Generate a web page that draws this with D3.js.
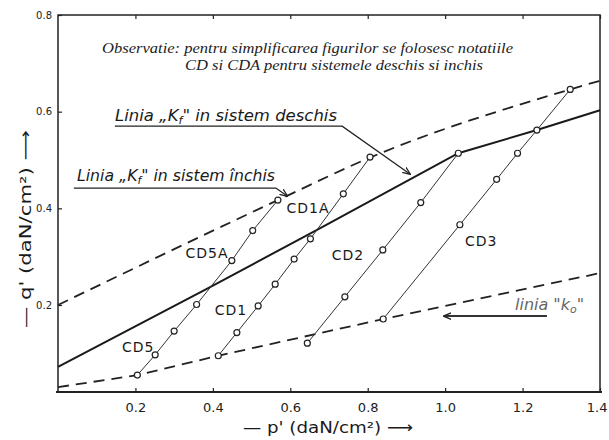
<!DOCTYPE html>
<html>
<head>
<meta charset="utf-8">
<script src="https://cdn.jsdelivr.net/npm/d3@7"></script>
<style>
  html, body { margin: 0; padding: 0; background: #fff; }
  svg { display: block; }
  .tick text { font-family: 'DejaVu Sans', sans-serif; fill: #222; }
  .hand { font-family: 'DejaVu Sans', sans-serif; fill: #1a1a1a; }
  .note { font-family: 'Liberation Serif', serif; font-style: italic; fill: #222; }
</style>
</head>
<body>
<svg id="chart"></svg>
<script>
'use strict';

// tick labels
const xTicks = [0.2, 0.4, 0.6, 0.8, 1.0, 1.2, 1.4];
const yTicks = [0.2, 0.4, 0.6, 0.8];

// [p', q']
const kfOpen = [[0, 0.200], [0.568, 0.417], [0.806, 0.505], [1.323, 0.646], [1.4, 0.664]];
const kfClosed = [[0, 0.072], [0.388, 0.235], [0.668, 0.355], [1.034, 0.514], [1.237, 0.562], [1.4, 0.603]];
const k0 = [[0, 0.030], [0.205, 0.055], [0.414, 0.095], [0.840, 0.171], [1.4, 0.266]];

const cd5 = [[0.205, 0.055], [0.251, 0.097], [0.300, 0.146], [0.358, 0.201], [0.449, 0.292], [0.503, 0.354], [0.568, 0.417]];
const cd1 = [[0.414, 0.095], [0.462, 0.143], [0.517, 0.198], [0.561, 0.243], [0.610, 0.295], [0.652, 0.337], [0.737, 0.430], [0.806, 0.506]];
const cd2 = [[0.644, 0.121], [0.741, 0.217], [0.839, 0.314], [0.937, 0.412], [1.034, 0.514]];
const cd3 = [[0.840, 0.171], [1.038, 0.366], [1.133, 0.460], [1.187, 0.514], [1.237, 0.562], [1.323, 0.646]];

const series = [cd5, cd1, cd2, cd3];
const seriesNames = ['CD5', 'CD5A', 'CD1', 'CD1A', 'CD2', 'CD3'];

const width = 609, height = 440;

const svg = d3.select('#chart')
    .attr('width', width)
    .attr('height', height);

const x = d3.scaleLinear()
    .domain([0, 1.4])
    .range([58, 600]);

const y = d3.scaleLinear()
    .domain([0.02, 0.8])
    .range([392, 15]);

svg.append('defs').append('marker')
    .attr('id', 'arrow')
    .attr('viewBox', '0 0 10 10')
    .attr('refX', 9)
    .attr('refY', 5)
    .attr('markerWidth', 8)
    .attr('markerHeight', 8)
    .attr('markerUnits', 'userSpaceOnUse')
    .attr('orient', 'auto')
  .append('path')
    .attr('d', 'M0,1 L10,5 L0,9')
    .attr('fill', 'none')
    .attr('stroke', '#222')
    .attr('stroke-width', 1.6);

// frame
svg.append('rect')
    .attr('x', x(0))
    .attr('y', y(0.8))
    .attr('width', x(1.4) - x(0))
    .attr('height', y(0.02) - y(0.8))
    .attr('fill', 'none')
    .attr('stroke', '#222')
    .attr('stroke-width', 1.5);

svg.append('line')
    .attr('x1', x(0) - 2).attr('x2', x(1.4) + 2)
    .attr('y1', y(0.02)).attr('y2', y(0.02))
    .attr('stroke', '#222')
    .attr('stroke-width', 2.2);

const xAxis = svg.append('g')
    .attr('transform', `translate(0,${y(0.02)})`)
    .call(d3.axisBottom(x).tickValues(xTicks).tickFormat(d3.format('.1f'))
      .tickSizeInner(-4).tickSizeOuter(0).tickPadding(11));

const yAxis = svg.append('g')
    .attr('transform', `translate(${x(0)},0)`)
    .call(d3.axisLeft(y).tickValues(yTicks).tickFormat(d3.format('.1f'))
      .tickSizeInner(-4).tickSizeOuter(0).tickPadding(6));

const topAxis = svg.append('g')
    .attr('transform', `translate(0,${y(0.8)})`)
    .call(d3.axisTop(x).tickValues(xTicks).tickFormat('')
      .tickSizeInner(-4).tickSizeOuter(0));

[xAxis, yAxis, topAxis].forEach(g => {
  g.select('.domain').remove();
  g.selectAll('.tick line').attr('stroke', '#222').attr('stroke-width', 1.2);
});
xAxis.selectAll('.tick text').attr('font-size', 13);
yAxis.selectAll('.tick text').attr('font-size', 10);

// last label sits on the page edge, keep it inside
xAxis.selectAll('.tick text')
    .filter(d => d === 1.4)
    .attr('text-anchor', 'end')
    .attr('x', 7);

const line = d3.line()
    .x(d => x(d[0]))
    .y(d => y(d[1]));

svg.append('path')
    .datum(kfOpen)
    .attr('d', line.curve(d3.curveMonotoneX))
    .attr('fill', 'none')
    .attr('stroke', '#222')
    .attr('stroke-width', 1.8)
    .attr('stroke-dasharray', '11,7');

line.curve(d3.curveLinear);

svg.append('path')
    .datum(kfClosed)
    .attr('d', line)
    .attr('fill', 'none')
    .attr('stroke', '#1a1a1a')
    .attr('stroke-width', 2);

svg.append('path')
    .datum(k0)
    .attr('d', line)
    .attr('fill', 'none')
    .attr('stroke', '#222')
    .attr('stroke-width', 1.8)
    .attr('stroke-dasharray', '11,7');

const runs = svg.append('g')
    .selectAll('g')
    .data(series)
  .enter().append('g');

runs.append('path')
    .attr('d', d => line(d))
    .attr('fill', 'none')
    .attr('stroke', '#333')
    .attr('stroke-width', 1);

runs.selectAll('circle')
    .data(d => d)
  .enter().append('circle')
    .attr('cx', d => x(d[0]))
    .attr('cy', d => y(d[1]))
    .attr('r', 3)
    .attr('fill', '#fff')
    .attr('stroke', '#222')
    .attr('stroke-width', 1.2);

// series names
const namePos = [[0.207, 0.113], [0.385, 0.308], [0.447, 0.190], [0.646, 0.401], [0.749, 0.303], [1.093, 0.332]];
svg.append('g')
    .selectAll('text')
    .data(seriesNames)
  .enter().append('text')
    .attr('class', 'hand')
    .attr('x', (d, i) => x(namePos[i][0]))
    .attr('y', (d, i) => y(namePos[i][1]))
    .attr('dy', '0.36em')
    .attr('text-anchor', 'middle')
    .attr('font-size', 14)
    .attr('letter-spacing', 1)
    .text(d => d);

// note on top
svg.append('text')
    .attr('class', 'note')
    .attr('x', 307.5).attr('y', 53)
    .attr('text-anchor', 'middle')
    .attr('font-size', 15)
    .attr('textLength', 411)
    .attr('lengthAdjust', 'spacingAndGlyphs')
    .text('Observatie: pentru simplificarea figurilor se folosesc notatiile');

svg.append('text')
    .attr('class', 'note')
    .attr('x', 334).attr('y', 70)
    .attr('text-anchor', 'middle')
    .attr('font-size', 15)
    .attr('textLength', 298)
    .attr('lengthAdjust', 'spacingAndGlyphs')
    .text('CD si CDA  pentru sistemele deschis si inchis');

function kfLabel(px, py, len, tail) {
  const t = svg.append('text')
      .attr('class', 'hand')
      .attr('x', px).attr('y', py)
      .attr('font-size', 16)
      .attr('font-style', 'italic')
      .attr('textLength', len)
      .attr('lengthAdjust', 'spacingAndGlyphs');
  t.append('tspan').text('Linia „K');
  t.append('tspan').attr('font-size', 11).attr('dy', 3).text('f');
  t.append('tspan').attr('dy', -3).text('" ' + tail);
}

kfLabel(115, 121, 222, 'in sistem deschis');
kfLabel(77, 181, 198, 'in sistem închis');

svg.append('path')
    .attr('d', `M${x(0.147)},${y(0.570)} H${x(0.734)} L${x(0.909)},${y(0.471)}`)
    .attr('fill', 'none')
    .attr('stroke', '#222')
    .attr('stroke-width', 1.3)
    .attr('marker-end', 'url(#arrow)');

svg.append('path')
    .attr('d', `M${x(0.041)},${y(0.442)} H${x(0.563)} L${x(0.592)},${y(0.4255)}`)
    .attr('fill', 'none')
    .attr('stroke', '#222')
    .attr('stroke-width', 1.3)
    .attr('marker-end', 'url(#arrow)');

// k0 label
const k0Label = svg.append('text')
    .attr('class', 'hand')
    .attr('x', 515).attr('y', 310)
    .attr('font-size', 16)
    .attr('font-style', 'italic')
    .style('fill', '#666');
k0Label.append('tspan').text('linia "k');
k0Label.append('tspan').attr('font-size', 11).attr('dy', 3).text('o');
k0Label.append('tspan').attr('dy', -3).text('"');

svg.append('path')
    .attr('d', `M${x(1.263)},${y(0.177)} H${x(0.997)}`)
    .attr('fill', 'none')
    .attr('stroke', '#333')
    .attr('stroke-width', 2)
    .attr('marker-end', 'url(#arrow)');

// axis titles
svg.append('text')
    .attr('class', 'hand')
    .attr('transform', 'translate(25,229) rotate(-90)')
    .attr('text-anchor', 'middle')
    .attr('dy', '0.35em')
    .attr('font-size', 16)
    .attr('textLength', 198)
    .attr('lengthAdjust', 'spacingAndGlyphs')
    .text("— q' (daN/cm²) ⟶");

svg.append('text')
    .attr('class', 'hand')
    .attr('x', 328).attr('y', 433)
    .attr('text-anchor', 'middle')
    .attr('font-size', 16)
    .attr('textLength', 170)
    .attr('lengthAdjust', 'spacingAndGlyphs')
    .text("— p' (daN/cm²) ⟶");
</script>
</body>
</html>
